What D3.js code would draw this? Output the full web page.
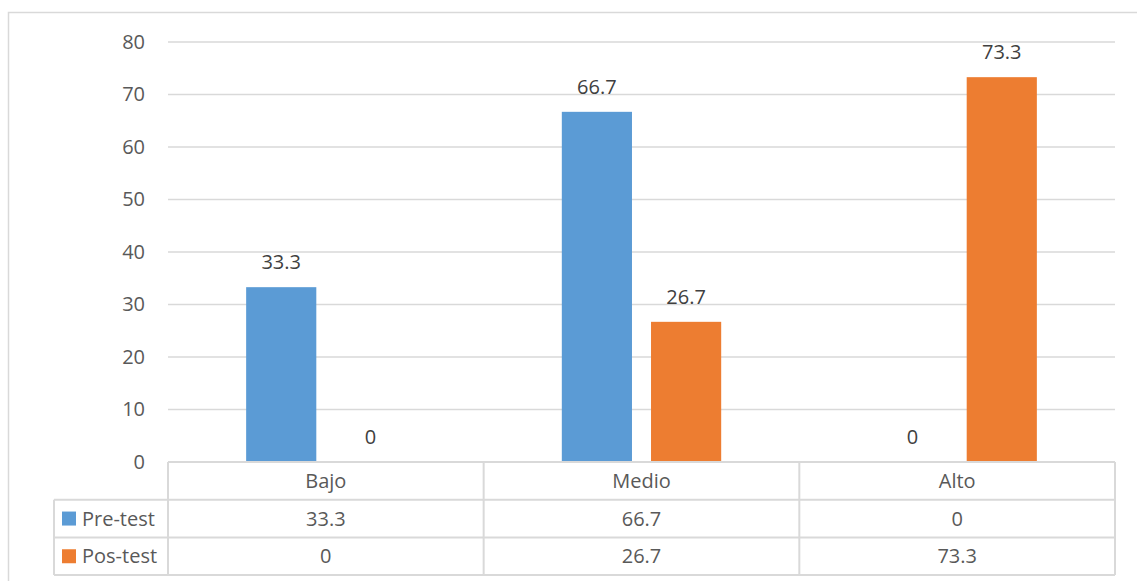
<!DOCTYPE html>
<html>
<head>
<meta charset="utf-8">
<script src="https://cdn.jsdelivr.net/npm/d3@7"></script>
<style>
  body { margin: 0; background: white; }
  text { font-family: "Open Sans", sans-serif; }
</style>
</head>
<body>
<div id="chart"></div>
<script>
// chart data
var categories = ["Bajo", "Medio", "Alto"];
var seriesNames = ["Pre-test", "Pos-test"];
var preTest = [33.3, 66.7, 0];
var posTest = [0, 26.7, 73.3];
var yTicks = [0, 10, 20, 30, 40, 50, 60, 70, 80];
var colors = ["#5B9BD5", "#ED7D31"];

var W = 1137, H = 581;
var plotLeft = 168, plotRight = 1115, plotTop = 42, plotBottom = 462;
var rowH = 37.7;
var legendLeft = 54;
var gridColor = "#d9d9d9";

var svg = d3.select("#chart")
    .append("svg")
    .attr("width", W)
    .attr("height", H);

// outer chart border
svg.append("rect")
    .attr("x", 8.5).attr("y", 12.5)
    .attr("width", W + 10).attr("height", H + 10)
    .attr("fill", "white")
    .attr("stroke", gridColor)
    .attr("stroke-width", 1.5);

var y = d3.scaleLinear().domain([0, 80]).range([plotBottom, plotTop]);
var x0 = d3.scaleBand().domain(categories).range([plotLeft, plotRight]);
var x1 = d3.scaleBand().domain(seriesNames)
    .range([0, x0.bandwidth()])
    .paddingInner(0.2135)
    .paddingOuter(0.876);

// gridlines
svg.append("g")
    .selectAll("line")
    .data(yTicks.filter(d => d > 0))
    .enter()
    .append("line")
    .attr("x1", plotLeft).attr("x2", plotRight)
    .attr("y1", d => y(d)).attr("y2", d => y(d))
    .attr("stroke", gridColor)
    .attr("stroke-width", 1.3);

// y axis labels
var yAxis = svg.append("g")
    .attr("transform", "translate(" + (plotLeft - 23) + ",0)")
    .call(d3.axisLeft(y).tickValues(yTicks).tickSize(0).tickPadding(0));
yAxis.select(".domain").remove();
yAxis.selectAll("text")
    .attr("fill", "#595959")
    .style("font-size", "20px")
    .style("font-family", "'Open Sans', sans-serif");

var rows = seriesNames.map((s, i) => ({ name: s, values: i === 0 ? preTest : posTest, color: colors[i] }));

// bars
rows.forEach(function(r) {
    var g = svg.append("g");
    g.selectAll("rect")
        .data(r.values)
        .enter()
        .append("rect")
        .attr("x", (d, i) => x0(categories[i]) + x1(r.name))
        .attr("y", d => y(d))
        .attr("width", x1.bandwidth())
        .attr("height", d => y(0) - y(d))
        .attr("fill", r.color);

    g.selectAll("text")
        .data(r.values)
        .enter()
        .append("text")
        .attr("x", (d, i) => x0(categories[i]) + x1(r.name) + x1.bandwidth() / 2)
        .attr("y", d => y(d) - 18)
        .attr("text-anchor", "middle")
        .attr("fill", "#404040")
        .style("font-size", "20px")
        .text(d => d);
});

// data table
var tbl = svg.append("g").attr("fill", "none").attr("stroke", gridColor).attr("stroke-width", 2);
var tableBottom = plotBottom + rowH * 3;
// horizontal lines
tbl.append("line").attr("x1", plotLeft).attr("x2", plotRight).attr("y1", plotBottom).attr("y2", plotBottom);
[1, 2, 3].forEach(function(k) {
    tbl.append("line")
        .attr("x1", legendLeft).attr("x2", plotRight)
        .attr("y1", plotBottom + rowH * k).attr("y2", plotBottom + rowH * k);
});
// vertical lines
tbl.selectAll(".vcol")
    .data(categories.concat(["end"]))
    .enter()
    .append("line")
    .attr("x1", (d, i) => i < categories.length ? x0(d) : plotRight)
    .attr("x2", (d, i) => i < categories.length ? x0(d) : plotRight)
    .attr("y1", plotBottom).attr("y2", tableBottom);
tbl.append("line")
    .attr("x1", legendLeft).attr("x2", legendLeft)
    .attr("y1", plotBottom + rowH).attr("y2", tableBottom);

// header labels
svg.append("g")
    .selectAll("text")
    .data(categories)
    .enter()
    .append("text")
    .attr("x", d => x0(d) + x0.bandwidth() / 2)
    .attr("y", plotBottom + rowH / 2 + 7)
    .attr("text-anchor", "middle")
    .attr("fill", "#595959")
    .style("font-size", "20px")
    .text(d => d);

// table rows
rows.forEach(function(r, k) {
    var cy = plotBottom + rowH * (k + 1) + rowH / 2;
    svg.append("rect")
        .attr("x", 62).attr("y", cy - 7)
        .attr("width", 14).attr("height", 14)
        .attr("fill", r.color);
    svg.append("text")
        .attr("x", 82).attr("y", cy + 7)
        .attr("fill", "#595959")
        .style("font-size", "20px")
        .text(r.name);
    svg.append("g")
        .selectAll("text")
        .data(r.values)
        .enter()
        .append("text")
        .attr("x", (d, i) => x0(categories[i]) + x0.bandwidth() / 2)
        .attr("y", cy + 7)
        .attr("text-anchor", "middle")
        .attr("fill", "#595959")
        .style("font-size", "20px")
        .text(d => d);
});
</script>
</body>
</html>
